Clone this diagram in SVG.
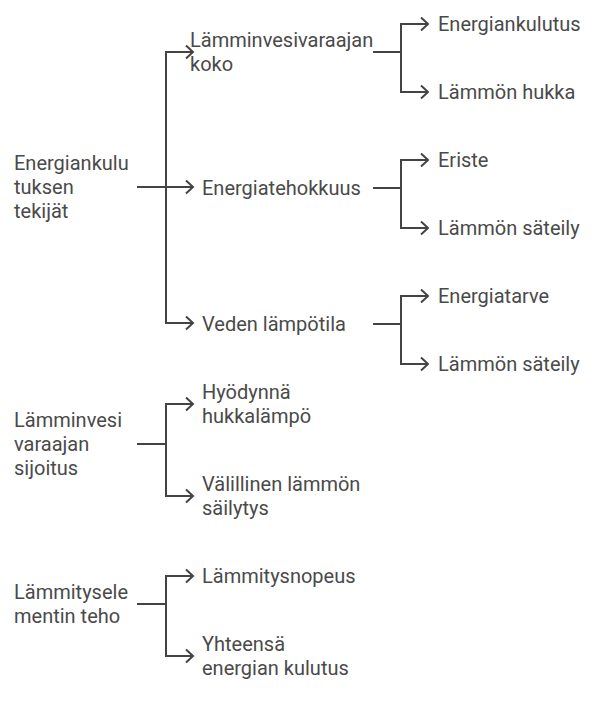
<svg xmlns="http://www.w3.org/2000/svg" width="604" height="704" viewBox="0 0 604 704">
<style>
text{font-family:Roboto,"Liberation Sans",sans-serif;font-size:20px;fill:#4a4a4a}
.c path{fill:none;stroke:#444;stroke-width:2}
</style>
<defs>
<marker id="ah" markerUnits="userSpaceOnUse" markerWidth="12" markerHeight="16" viewBox="0 0 12 16" refX="9" refY="8" orient="auto">
<path d="M2,1.5 L9,8 L2,14.5" fill="none" stroke="#444" stroke-width="2"/>
</marker>
</defs>
<rect width="604" height="704" fill="#fff"/>
<g class="c" id="connectors">
<path d="M137,187 H166"/>
<path d="M166,187 V52 H193" marker-end="url(#ah)"/>
<path d="M166,187 H193" marker-end="url(#ah)"/>
<path d="M166,187 V323 H193" marker-end="url(#ah)"/>
<path d="M373,52 H401"/>
<path d="M401,52 V24 H428" marker-end="url(#ah)"/>
<path d="M401,52 V92 H428" marker-end="url(#ah)"/>
<path d="M373,188 H401"/>
<path d="M401,188 V160 H428" marker-end="url(#ah)"/>
<path d="M401,188 V228 H428" marker-end="url(#ah)"/>
<path d="M373,324 H401"/>
<path d="M401,324 V296 H428" marker-end="url(#ah)"/>
<path d="M401,324 V364 H428" marker-end="url(#ah)"/>
<path d="M137,444 H166"/>
<path d="M166,444 V404 H193" marker-end="url(#ah)"/>
<path d="M166,444 V496 H193" marker-end="url(#ah)"/>
<path d="M137,604 H166"/>
<path d="M166,604 V576 H193" marker-end="url(#ah)"/>
<path d="M166,604 V656 H193" marker-end="url(#ah)"/>
</g>
<g id="root1"><text x="14" y="170">Energiankulu</text><text x="14" y="194">tuksen</text><text x="14" y="218">tekijät</text></g>
<g id="n-koko"><text x="190" y="47">Lämminvesivaraajan</text><text x="190" y="71">koko</text></g>
<g id="n-teho"><text x="202" y="195">Energiatehokkuus</text></g>
<g id="n-lampotila"><text x="202" y="331">Veden lämpötila</text></g>
<g id="l1"><text x="438" y="31">Energiankulutus</text></g>
<g id="l2"><text x="438" y="99">Lämmön hukka</text></g>
<g id="l3"><text x="438" y="167">Eriste</text></g>
<g id="l4"><text x="438" y="235">Lämmön säteily</text></g>
<g id="l5"><text x="438" y="303">Energiatarve</text></g>
<g id="l6"><text x="438" y="371">Lämmön säteily</text></g>
<g id="root2"><text x="14" y="427">Lämminvesi</text><text x="14" y="451">varaajan</text><text x="14" y="475">sijoitus</text></g>
<g id="n-hukka"><text x="202" y="399">Hyödynnä</text><text x="202" y="423">hukkalämpö</text></g>
<g id="n-valillinen"><text x="202" y="491">Välillinen lämmön</text><text x="202" y="515">säilytys</text></g>
<g id="root3"><text x="14" y="599">Lämmitysele</text><text x="14" y="623">mentin teho</text></g>
<g id="n-nopeus"><text x="202" y="583">Lämmitysnopeus</text></g>
<g id="n-yht"><text x="202" y="651">Yhteensä</text><text x="202" y="675">energian kulutus</text></g>
</svg>
